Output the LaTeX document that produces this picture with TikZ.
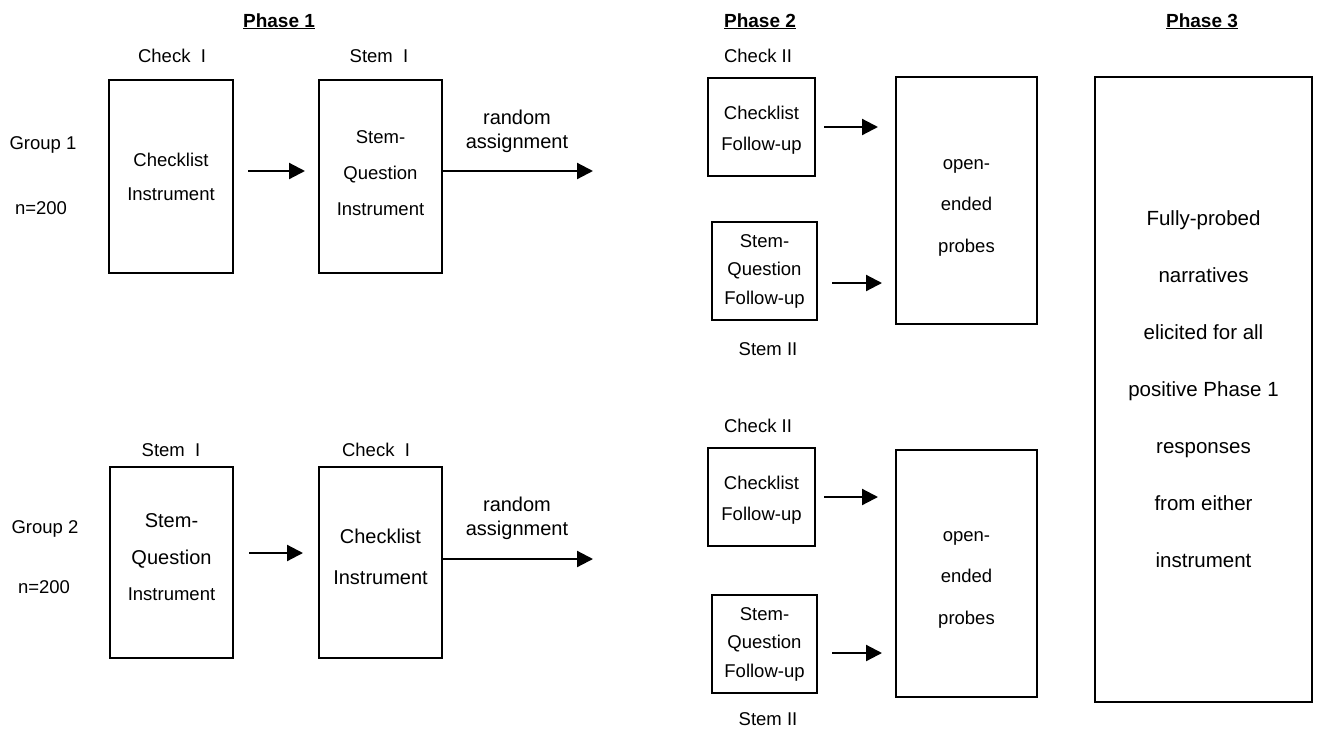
\documentclass[tikz,border=0pt]{standalone}
\usepackage{fontspec}
\setmainfont{Liberation Sans}
\usetikzlibrary{arrows.meta,calc}
\begin{document}
\begin{tikzpicture}[x=1pt,y=-1pt,
  box/.style={draw, line width=2pt, inner sep=0pt, align=center},
  intext/.style={inner sep=0pt, align=center},
  lbl/.style={font=\fontsize{18.5}{22}\selectfont, inner sep=0pt, anchor=base},
  ttl/.style={font=\bfseries\fontsize{19}{22}\selectfont, inner sep=0pt, anchor=base},
  ra/.style={font=\fontsize{20}{24}\selectfont, inner sep=0pt, anchor=base},
  arr/.style={line width=2.2pt, -{Triangle[length=16pt,width=16pt]}},
]
\useasboundingbox[fill=white] (0,0) rectangle (1317,731);

% titles
\node[ttl] (t1) at (279,27) {\underline{Phase 1}};
\node[ttl] (t2) at (760,27) {\underline{Phase 2}};
\node[ttl] (t3) at (1202,27) {\underline{Phase 3}};

% group labels
\node[lbl] (g1) at (43,149.5) {Group 1};
\node[lbl] (n1) at (41,214.5) {n=200};
\node[lbl] (g2) at (45,533.5) {Group 2};
\node[lbl] (n2) at (44,593.5) {n=200};

% phase 1 boxes
\node[box, minimum width=124pt, minimum height=193pt, font=\fontsize{18.5}{34}\selectfont] (b1) at (171,176.5) {Checklist\\Instrument};
\node[box, minimum width=123pt, minimum height=193pt, font=\fontsize{18.5}{36}\selectfont,
  label={[name=b2t, intext, font=\fontsize{18.5}{36}\selectfont, yshift=3pt]center:Stem-\\Question\\Instrument}] (b2) at (380.5,176.5) {};
\node[box, minimum width=123pt, minimum height=191pt,
  label={[name=b3t, intext, font=\fontsize{20}{36.5}\selectfont, yshift=5pt]center:Stem-\\Question\\{\fontsize{18.5}{22}\selectfont Instrument}}] (b3) at (171.5,562.5) {};
\node[box, minimum width=123pt, minimum height=191pt,
  label={[name=b4t, intext, font=\fontsize{20}{41}\selectfont, yshift=6pt]center:Checklist\\Instrument}] (b4) at (380.5,562.5) {};

\node[lbl] (l1) at (172,62) {Check~~I};
\node[lbl] (l2) at (379,62) {Stem~~I};
\node[lbl] (l3) at (171,456) {Stem~~I};
\node[lbl] (l4) at (376,456) {Check~~I};

\node[ra] (ra1) at (517,124) {random};
\node[ra] (ra1b) at (517,148) {assignment};
\node[ra] (ra2) at (517,511) {random};
\node[ra] (ra2b) at (517,535) {assignment};

\coordinate (r1) at (593,171);
\coordinate (r2) at (593,559);

\draw[arr, shorten <=14pt, shorten >=13pt] ([yshift=5.5pt]b1.east) -- ([yshift=5.5pt]b2.west);
\draw[arr] ([yshift=5.5pt]b2.east) -- (r1);
\draw[arr, shorten <=15pt, shorten >=15pt] ([yshift=9.5pt]b3.east) -- ([yshift=9.5pt]b4.west);
\draw[arr] ([yshift=3.5pt]b4.east) -- (r2);

% phase 2 upper
\node[lbl] (c2a) at (758,62) {Check II};
\node[box, minimum width=107pt, minimum height=98pt,
  label={[name=cf1t, intext, font=\fontsize{18.5}{31}\selectfont, yshift=-3pt]center:Checklist\\Follow-up}] (cf1) at (761.5,127) {};
\node[box, minimum width=105pt, minimum height=98pt, font=\fontsize{18.5}{28.5}\selectfont] (sqf1) at (764.5,271) {Stem-\\Question\\Follow-up};
\node[lbl] (s2a) at (768,355) {Stem II};
\node[box, minimum width=141pt, minimum height=247pt,
  label={[name=op1t, intext, font=\fontsize{18.5}{41.5}\selectfont, yshift=-7pt]center:open-\\ended\\probes}] (op1) at (966.5,200.5) {};

\draw[arr, shorten <=8pt, shorten >=17pt] (cf1.east) -- (cf1.east -| op1.west);
\draw[arr, shorten <=14pt, shorten >=13pt] ([yshift=-12pt]sqf1.east) -- ([yshift=-12pt]sqf1.east -| op1.west);

% phase 2 lower
\node[lbl] (c2b) at (758,432) {Check II};
\node[box, minimum width=107pt, minimum height=98pt,
  label={[name=cf2t, intext, font=\fontsize{18.5}{31}\selectfont, yshift=-3pt]center:Checklist\\Follow-up}] (cf2) at (761.5,497) {};
\node[box, minimum width=105pt, minimum height=98pt, font=\fontsize{18.5}{28.5}\selectfont] (sqf2) at (764.5,644) {Stem-\\Question\\Follow-up};
\node[lbl] (s2b) at (768,725) {Stem II};
\node[box, minimum width=141pt, minimum height=247pt,
  label={[name=op2t, intext, font=\fontsize{18.5}{41.5}\selectfont, yshift=-6pt]center:open-\\ended\\probes}] (op2) at (966.5,573.5) {};

\draw[arr, shorten <=8pt, shorten >=17pt] (cf2.east) -- (cf2.east -| op2.west);
\draw[arr, shorten <=14pt, shorten >=13pt] ([yshift=-9pt]sqf2.east) -- ([yshift=-9pt]sqf2.east -| op2.west);

% phase 3
\node[box, minimum width=217pt, minimum height=625pt, font=\fontsize{20.5}{57}\selectfont] (p3) at (1203.5,389.5) {Fully-probed\\narratives\\elicited for all\\positive Phase 1\\responses\\from either\\instrument};
\end{tikzpicture}
\end{document}
